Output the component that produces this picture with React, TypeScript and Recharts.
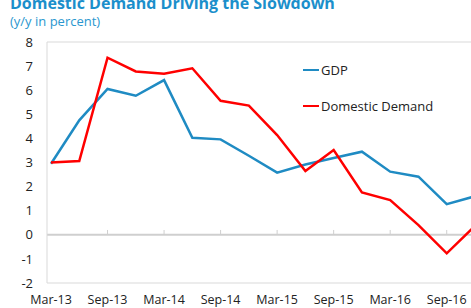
import { LineChart, Line, XAxis, YAxis, ReferenceLine, Legend } from "recharts";

const quarters = [
  "Mar-13", "Jun-13", "Sep-13", "Dec-13",
  "Mar-14", "Jun-14", "Sep-14", "Dec-14",
  "Mar-15", "Jun-15", "Sep-15", "Dec-15",
  "Mar-16", "Jun-16", "Sep-16", "Dec-16",
];
const gdp = [2.95, 4.75, 6.05, 5.77, 6.42, 4.03, 3.96, 3.28, 2.58, 2.92, 3.19, 3.45, 2.62, 2.41, 1.27, 1.6];
const domesticDemand = [3.0, 3.06, 7.35, 6.78, 6.68, 6.91, 5.56, 5.36, 4.14, 2.65, 3.52, 1.76, 1.44, 0.4, -0.77, 0.37];
const yTicks = [-2, -1, 0, 1, 2, 3, 4, 5, 6, 7, 8];
const zeroTicks = ["Sep-13", "Mar-14", "Sep-14", "Mar-15", "Sep-15", "Mar-16", "Sep-16"];

const FONT = "'Open Sans', sans-serif";
const BLUE = "#1f8bc3";
const RED = "#ff0000";
const GRID = "#d9d9d9";

const data = quarters.map((q, i) => ({
  quarter: q,
  gdp: gdp[i],
  domestic: domesticDemand[i],
}));

function ChartLegend() {
  const items = [
    { label: "GDP", color: BLUE },
    { label: "Domestic Demand", color: RED },
  ];
  return (
    <div style={{ fontFamily: FONT, fontSize: 13, color: "#222" }}>
      {items.map((it) => (
        <div
          key={it.label}
          style={{ display: "flex", alignItems: "center", height: 20, marginBottom: 16 }}
        >
          <span style={{ width: 16, height: 2.5, background: it.color, marginRight: 2 }} />
          <span>{it.label}</span>
        </div>
      ))}
    </div>
  );
}

export default function App() {
  return (
    <div
      style={{
        position: "absolute",
        left: 0,
        top: 0,
        width: 471,
        height: 308,
        overflow: "hidden",
        background: "#fff",
        fontFamily: FONT,
      }}
    >
      <div
        style={{
          position: "absolute",
          left: 10,
          top: -5,
          fontSize: 16,
          lineHeight: "16px",
          fontWeight: 700,
          color: "#1b8fcb",
          whiteSpace: "nowrap",
        }}
      >
        Domestic Demand Driving the Slowdown
      </div>
      <div
        style={{
          position: "absolute",
          left: 10,
          top: 15,
          fontSize: 13,
          lineHeight: "13px",
          color: "#2a97cf",
          whiteSpace: "nowrap",
        }}
      >
        (y/y in percent)
      </div>
      <LineChart
        width={492}
        height={308}
        data={data}
        margin={{ top: 42, right: 13, bottom: 0, left: 0 }}
      >
        <XAxis
          dataKey="quarter"
          interval={1}
          padding={{ left: 4, right: 4 }}
          axisLine={false}
          tickLine={false}
          tickSize={0}
          tickMargin={12}
          height={25}
          tick={{ fontSize: 12.5, fill: "#222", fontFamily: FONT }}
        />
        <YAxis
          type="number"
          domain={[-2, 8]}
          ticks={yTicks}
          interval={0}
          width={47}
          axisLine={{ stroke: GRID }}
          tickLine={false}
          tickSize={0}
          tickMargin={14}
          tick={{ fontSize: 13, fill: "#222", fontFamily: FONT }}
        />
        <ReferenceLine y={8} stroke={GRID} />
        <ReferenceLine y={-2} stroke={GRID} />
        <ReferenceLine y={0} stroke="#cfcfcf" strokeWidth={2} />
        {zeroTicks.map((q) => (
          <ReferenceLine
            key={q}
            segment={[{ x: q, y: 0 }, { x: q, y: 0.2 }]}
            stroke="#cfcfcf"
          />
        ))}
        <Legend
          layout="vertical"
          align="center"
          verticalAlign="middle"
          wrapperStyle={{ left: 303, top: 60, width: 170 }}
          content={() => <ChartLegend />}
        />
        <Line
          type="linear"
          dataKey="gdp"
          name="GDP"
          stroke={BLUE}
          strokeWidth={2.5}
          dot={false}
          isAnimationActive={false}
        />
        <Line
          type="linear"
          dataKey="domestic"
          name="Domestic Demand"
          stroke={RED}
          strokeWidth={2.5}
          dot={false}
          isAnimationActive={false}
        />
      </LineChart>
    </div>
  );
}
